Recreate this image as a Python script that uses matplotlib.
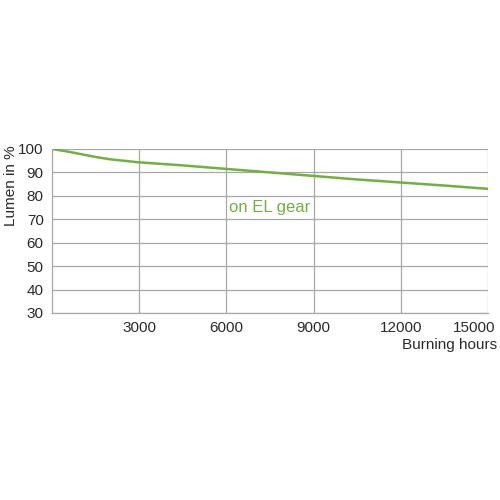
import matplotlib.pyplot as plt
import matplotlib.transforms as mtransforms
import numpy as np

# burning hours vs lumen maintenance
hours = [0, 500, 1000, 1500, 2000, 3000, 4500, 6000, 7500, 9000, 10500, 12000, 13500, 15000]
lumen = [100, 99.0, 97.8, 96.6, 95.6, 94.3, 93.0, 91.5, 90.0, 88.5, 87.0, 85.7, 84.4, 83.0]
xticks = [3000, 6000, 9000, 12000, 15000]
yticks = [30, 40, 50, 60, 70, 80, 90, 100]

plt.rcParams['font.family'] = ['Liberation Sans', 'DejaVu Sans']
green = '#72b042'
grid_col = '#a8a8a8'
txt_col = '#2a2a2a'

fig = plt.figure(figsize=(5, 5), dpi=100)
ax = fig.add_axes([0.104, 0.374, 0.872, 0.328])

ax.plot(hours, lumen, color=green, lw=1.8)
ax.text(6100, 75, 'on EL gear', color=green, fontsize=12, va='center', ha='left')

ax.set_xlim(0, 15000)
ax.set_ylim(30, 100)
ax.set_xticks(xticks)
ax.set_yticks(yticks)
ax.grid(True, color=grid_col, lw=0.9)
ax.tick_params(length=0, labelsize=11, colors=txt_col, pad=6)
for s in ['top', 'right']:
    ax.spines[s].set_visible(False)
for s in ['left', 'bottom']:
    ax.spines[s].set_color(grid_col)
    ax.spines[s].set_linewidth(0.9)

# last x label sits a bit inside the figure edge
last = ax.get_xticklabels()[-1]
last.set_transform(last.get_transform() + mtransforms.ScaledTranslation(-10 / 72, 0, fig.dpi_scale_trans))

fig.text(0.994, 0.31, 'Burning hours', ha='right', va='center', fontsize=11, color=txt_col)
fig.text(0.022, 0.71, 'Lumen in %', rotation=90, ha='center', va='top', fontsize=11, color=txt_col)

plt.savefig('out.png', dpi=100)
